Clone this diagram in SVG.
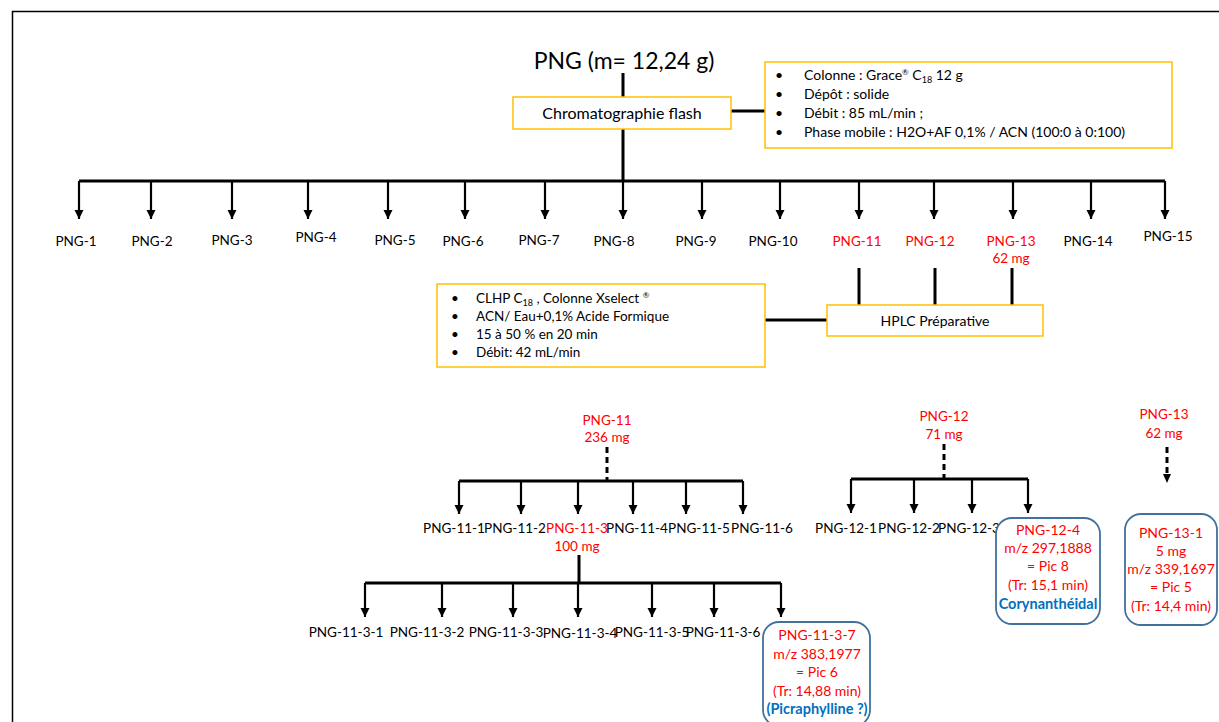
<svg xmlns="http://www.w3.org/2000/svg" width="1219" height="722" viewBox="0 0 1219 722">
<style>
text{font-family:Lato,"Open Sans","Liberation Sans",sans-serif;font-size:13.5px;fill:#000}
.c{text-anchor:middle}
.r{fill:#ff0000}
.bx{font-size:14px}
.b{fill:#0070c0;font-weight:bold;font-size:14.5px}
.i{font-size:14px}
.ybox{fill:#fff;stroke:#ffc000;stroke-width:1.5}
.rbox{fill:#fff;stroke:#41719c;stroke-width:1.8}
.ln{stroke:#000;stroke-width:3;fill:none}
.ar line{stroke:#000;stroke-width:2.2;marker-end:url(#ah)}
.da{stroke:#000;stroke-width:3;fill:none;stroke-dasharray:6 4}
</style>
<defs>
<marker id="ah" viewBox="0 0 10 10" refX="10" refY="5" markerWidth="4.2" markerHeight="4.2" orient="auto" markerUnits="strokeWidth">
<path d="M0,0 L10,5 L0,10 z" fill="#000"/>
</marker>
</defs>
<rect width="1219" height="722" fill="#fff"/>
<path d="M12.5,722 V11.5 H1219" stroke="#000" stroke-width="1.5" fill="none"/>

<g id="connectors">
<path class="ln" d="M623,73 V97 M623,129 V181 M731,111 H765"/>
<path class="ln" d="M79,181 H1165"/>
<g class="ar">
<line x1="79" y1="181" x2="79" y2="219"/>
<line x1="151" y1="181" x2="151" y2="219"/>
<line x1="232" y1="181" x2="232" y2="219"/>
<line x1="308" y1="181" x2="308" y2="219"/>
<line x1="388" y1="181" x2="388" y2="219"/>
<line x1="465" y1="181" x2="465" y2="219"/>
<line x1="545" y1="181" x2="545" y2="219"/>
<line x1="623" y1="181" x2="623" y2="219"/>
<line x1="702" y1="181" x2="702" y2="219"/>
<line x1="780" y1="181" x2="780" y2="219"/>
<line x1="859" y1="181" x2="859" y2="219"/>
<line x1="934" y1="181" x2="934" y2="219"/>
<line x1="1013" y1="181" x2="1013" y2="219"/>
<line x1="1091" y1="181" x2="1091" y2="219"/>
<line x1="1165" y1="181" x2="1165" y2="219"/>
</g>
<path class="ln" d="M859,268 V305 M935,268 V305 M1012,268 V305 M765,320 H827"/>
<path class="da" d="M607,447 V480"/>
<path class="ln" d="M459,481 H743"/>
<g class="ar">
<line x1="459" y1="481" x2="459" y2="514"/>
<line x1="521" y1="481" x2="521" y2="514"/>
<line x1="578" y1="481" x2="578" y2="514"/>
<line x1="633" y1="481" x2="633" y2="514"/>
<line x1="686" y1="481" x2="686" y2="514"/>
<line x1="743" y1="481" x2="743" y2="514"/>
</g>
<path class="ln" d="M579,555 V583 M365,583 H781"/>
<g class="ar">
<line x1="365" y1="583" x2="365" y2="617"/>
<line x1="442" y1="583" x2="442" y2="617"/>
<line x1="513" y1="583" x2="513" y2="617"/>
<line x1="578" y1="583" x2="578" y2="617"/>
<line x1="652" y1="583" x2="652" y2="617"/>
<line x1="714" y1="583" x2="714" y2="617"/>
<line x1="781" y1="583" x2="781" y2="617"/>
</g>
<path class="da" d="M944,444 V479"/>
<path class="ln" d="M851,479 H1028"/>
<g class="ar">
<line x1="851" y1="479" x2="851" y2="513"/>
<line x1="914" y1="479" x2="914" y2="513"/>
<line x1="972" y1="479" x2="972" y2="513"/>
<line x1="1028" y1="479" x2="1028" y2="513"/>
</g>
<path class="da" d="M1167,447 V474"/>
<path d="M1163,474 L1171,474 L1167,483 z" fill="#000"/>
</g>

<g id="title"><text class="c" x="624" y="69" style="font-size:23px">PNG (m= 12,24 g)</text></g>

<g id="flash">
<rect class="ybox" x="513" y="97" width="218" height="32"/>
<text class="c" x="622" y="119" style="font-size:16px">Chromatographie flash</text>
</g>

<g id="flash-info">
<rect class="ybox" x="765" y="62" width="407" height="86"/>
<text class="i" x="775" y="80">•</text><text class="i" x="804" y="80">Colonne : Grace<tspan dy="-5" style="font-size:8px">®</tspan><tspan dy="5"> C</tspan><tspan dy="3" style="font-size:9px">18</tspan><tspan dy="-3"> 12 g</tspan></text>
<text class="i" x="775" y="99">•</text><text class="i" x="804" y="99">Dépôt : solide</text>
<text class="i" x="775" y="118">•</text><text class="i" x="804" y="118">Débit : 85 mL/min ;</text>
<text class="i" x="775" y="137">•</text><text class="i" x="804" y="137">Phase mobile : H2O+AF 0,1% / ACN (100:0 à 0:100)</text>
</g>

<g id="fractions">
<text class="c" x="76" y="246">PNG-1</text>
<text class="c" x="152" y="246">PNG-2</text>
<text class="c" x="232" y="245">PNG-3</text>
<text class="c" x="316" y="242">PNG-4</text>
<text class="c" x="395" y="245">PNG-5</text>
<text class="c" x="463" y="246">PNG-6</text>
<text class="c" x="539" y="245">PNG-7</text>
<text class="c" x="614" y="246">PNG-8</text>
<text class="c" x="696" y="246">PNG-9</text>
<text class="c" x="773" y="246">PNG-10</text>
<text class="c r" x="857" y="246">PNG-11</text>
<text class="c r" x="930" y="246">PNG-12</text>
<text class="c r" x="1011" y="246">PNG-13</text>
<text class="c r" x="1011" y="263">62 mg</text>
<text class="c" x="1088" y="246">PNG-14</text>
<text class="c" x="1168" y="241">PNG-15</text>
</g>

<g id="hplc-info">
<rect class="ybox" x="437" y="284" width="328" height="83"/>
<text x="451" y="303">•</text><text x="476" y="303">CLHP C<tspan dy="3" style="font-size:9px">18</tspan><tspan dy="-3">  , Colonne Xselect </tspan><tspan dy="-5" style="font-size:8px">®</tspan></text>
<text x="451" y="321">•</text><text x="476" y="321">ACN/ Eau+0,1% Acide Formique</text>
<text x="451" y="339">•</text><text x="476" y="339">15 à 50 % en 20 min</text>
<text x="451" y="357">•</text><text x="476" y="357">Débit: 42 mL/min</text>
</g>

<g id="hplc">
<rect class="ybox" x="827" y="305" width="216" height="31"/>
<text class="c" x="935" y="326" style="font-size:14px">HPLC Préparative</text>
</g>

<g id="png11">
<text class="c r" x="607" y="425">PNG-11</text>
<text class="c r" x="607" y="442">236 mg</text>
</g>
<g id="png11-children">
<text class="c" x="454" y="533">PNG-11-1</text>
<text class="c" x="515" y="533">PNG-11-2</text>
<text class="c r" x="577" y="533">PNG-11-3</text>
<text class="c r" x="577" y="551">100 mg</text>
<text class="c" x="637" y="533">PNG-11-4</text>
<text class="c" x="699" y="533">PNG-11-5</text>
<text class="c" x="762" y="533">PNG-11-6</text>
</g>
<g id="png11-3-children">
<text class="c" x="346" y="637">PNG-11-3-1</text>
<text class="c" x="427" y="637">PNG-11-3-2</text>
<text class="c" x="506" y="637">PNG-11-3-3</text>
<text class="c" x="580" y="638">PNG-11-3-4</text>
<text class="c" x="652" y="637">PNG-11-3-5</text>
<text class="c" x="723" y="637">PNG-11-3-6</text>
</g>
<g id="png11-3-7">
<rect class="rbox" x="763" y="622" width="107" height="104" rx="16"/>
<text class="c r bx" x="817" y="640">PNG-11-3-7</text>
<text class="c r bx" x="817" y="659">m/z 383,1977</text>
<text class="c r bx" x="817" y="677">= Pic 6</text>
<text class="c r bx" x="817" y="696">(Tr: 14,88 min)</text>
<text class="c b" x="817" y="714">(Picraphylline ?)</text>
</g>

<g id="png12">
<text class="c r" x="944" y="421">PNG-12</text>
<text class="c r" x="944" y="439">71 mg</text>
</g>
<g id="png12-children">
<text class="c" x="846" y="533">PNG-12-1</text>
<text class="c" x="909" y="533">PNG-12-2</text>
<text class="c" x="969" y="533">PNG-12-3</text>
</g>
<g id="png12-4">
<rect class="rbox" x="996" y="518" width="104" height="106" rx="16"/>
<text class="c r bx" x="1048" y="535">PNG-12-4</text>
<text class="c r bx" x="1048" y="553">m/z 297,1888</text>
<text class="c r bx" x="1048" y="571">= Pic 8</text>
<text class="c r bx" x="1048" y="590">(Tr: 15,1 min)</text>
<text class="c b" x="1048" y="609">Corynanthéidal</text>
</g>

<g id="png13">
<text class="c r" x="1164" y="419">PNG-13</text>
<text class="c r" x="1164" y="438">62 mg</text>
</g>
<g id="png13-1">
<rect class="rbox" x="1125" y="514" width="92" height="111" rx="16"/>
<text class="c r bx" x="1171" y="538">PNG-13-1</text>
<text class="c r bx" x="1171" y="556">5 mg</text>
<text class="c r bx" x="1171" y="574">m/z 339,1697</text>
<text class="c r bx" x="1171" y="592">= Pic 5</text>
<text class="c r bx" x="1171" y="611">(Tr: 14,4 min)</text>
</g>
</svg>
